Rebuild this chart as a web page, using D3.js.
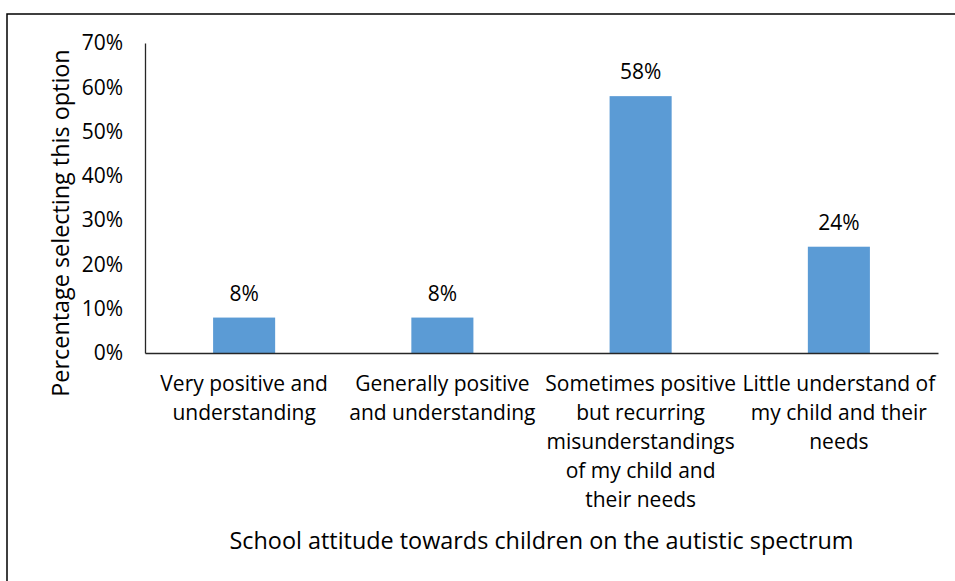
<!DOCTYPE html>
<html>
<head>
<meta charset="utf-8">
<script src="https://cdn.jsdelivr.net/npm/d3@7"></script>
<style>
  html, body { margin: 0; padding: 0; background: #fff; }
  svg { display: block; }
  text { font-family: "Open Sans", Lato, sans-serif; fill: #000; }
</style>
</head>
<body>
<svg id="chart" width="955" height="581"></svg>
<script>
// Survey responses: school attitude towards autistic children
const categories = [
  ["Very positive and", "understanding"],
  ["Generally positive", "and understanding"],
  ["Sometimes positive", "but recurring", "misunderstandings", "of my child and", "their needs"],
  ["Little understand of", "my child and their", "needs"]
];
const shares = [0.08, 0.08, 0.58, 0.24];
const yTicks = [0, 0.1, 0.2, 0.3, 0.4, 0.5, 0.6, 0.7];
const xTitle = "School attitude towards children on the autistic spectrum";
const yTitle = "Percentage selecting this option";

const svg = d3.select("#chart");
const plot = { left: 145, right: 938, top: 43, bottom: 353 };
const labelFont = "Open Sans, Lato, sans-serif";

// frame around the chart area (runs off the right and bottom edges)
svg.append("rect")
  .attr("x", 7).attr("y", 14)
  .attr("width", 1000).attr("height", 700)
  .attr("fill", "none").attr("stroke", "#000").attr("stroke-width", 1.5);

const keys = categories.map((d, i) => i);
const x = d3.scaleBand()
  .domain(keys)
  .range([plot.left, plot.right])
  .paddingInner(0.687)
  .paddingOuter(0.3435);

const y = d3.scaleLinear()
  .domain([0, 0.7])
  .range([plot.bottom, plot.top]);

// bars
svg.append("g").selectAll("rect")
  .data(shares)
  .join("rect")
  .attr("x", (d, i) => x(i))
  .attr("y", d => y(d))
  .attr("width", x.bandwidth())
  .attr("height", d => y(0) - y(d))
  .attr("fill", "#5B9BD5");

// value labels
svg.append("g").selectAll("text")
  .data(shares)
  .join("text")
  .attr("x", (d, i) => x(i) + x.bandwidth() / 2)
  .attr("y", d => y(d) - 17)
  .attr("text-anchor", "middle")
  .style("font-size", "21px")
  .text(d => d3.format(".0%")(d));

// y axis
const yAxis = d3.axisLeft(y)
  .tickValues(yTicks)
  .tickFormat(d3.format(".0%"))
  .tickSize(0)
  .tickPadding(22);
const gy = svg.append("g")
  .attr("transform", `translate(${plot.left},0)`)
  .call(yAxis);
gy.select(".domain").attr("stroke", "#262626").attr("stroke-width", 1.3);
gy.selectAll(".tick text")
  .style("font-size", "21px")
  .style("font-family", labelFont)
  .attr("fill", "#000");

// x axis
const xAxis = d3.axisBottom(x).tickSize(0).tickFormat("");
const gx = svg.append("g")
  .attr("transform", `translate(0,${plot.bottom})`)
  .call(xAxis);
gx.select(".domain").attr("stroke", "#262626").attr("stroke-width", 1.3);

// multi-line category labels
gx.selectAll(".tick").each(function (i) {
  const t = d3.select(this).append("text")
    .attr("text-anchor", "middle")
    .style("font-size", "21px")
    .style("font-family", labelFont)
    .attr("fill", "#000");
  categories[i].forEach((line, k) => {
    t.append("tspan").attr("x", 0).attr("y", 38 + k * 29).text(line);
  });
});

// axis titles
svg.append("text")
  .attr("x", (plot.left + plot.right) / 2)
  .attr("y", 549)
  .attr("text-anchor", "middle")
  .style("font-size", "23.4px")
  .text(xTitle);

svg.append("text")
  .attr("transform", `translate(69,223) rotate(-90)`)
  .attr("text-anchor", "middle")
  .style("font-size", "23.4px")
  .text(yTitle);
</script>
</body>
</html>
